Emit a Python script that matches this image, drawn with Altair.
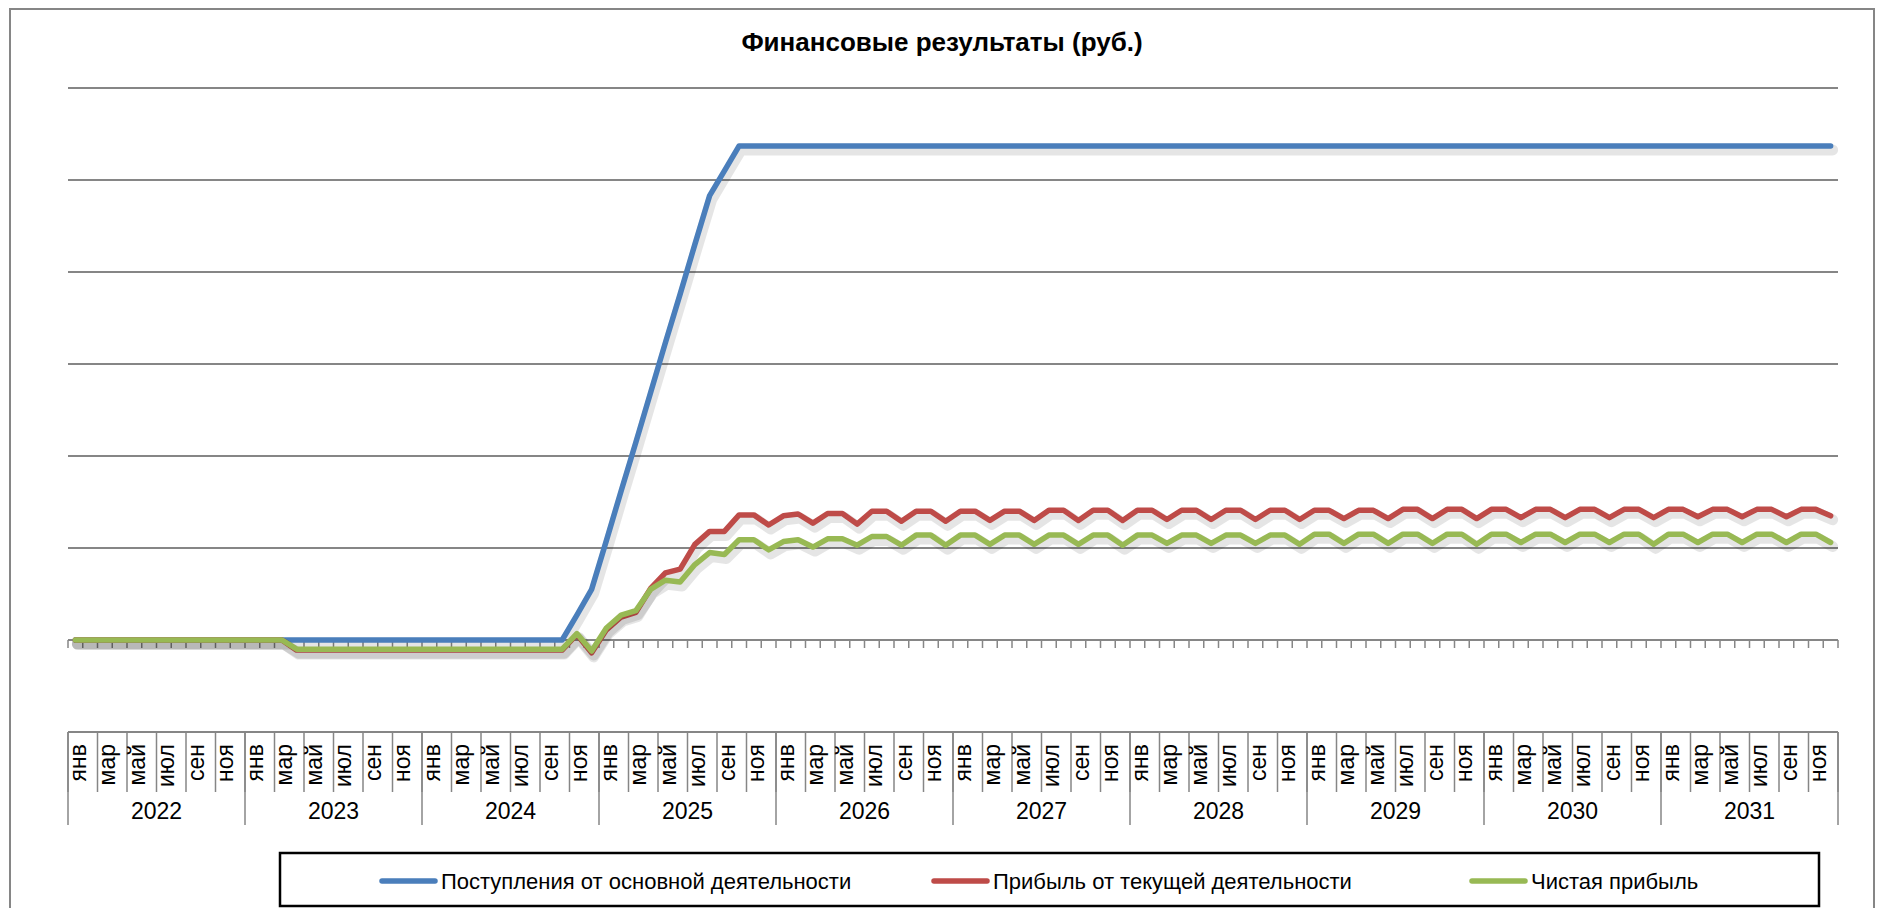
import altair as alt
import pandas as pd

# ---------------- data ----------------
years = [2022, 2023, 2024, 2025, 2026, 2027, 2028, 2029, 2030, 2031]
month_names = ["янв", "фев", "мар", "апр", "май", "июн", "июл", "авг", "сен", "окт", "ноя", "дек"]

series_names = [
    "Поступления от основной деятельности",
    "Прибыль от текущей деятельности",
    "Чистая прибыль",
]
series_colors = ["#4A7EBB", "#BE4B48", "#98B954"]

revenue = [
    0, 0, 0, 0, 0, 0, 0, 0, 0, 0, 0, 0,
    0, 0, 0, 0, 0, 0, 0, 0, 0, 0, 0, 0,
    0, 0, 0, 0, 0, 0, 0, 0, 0, 0, 0.27, 0.55,
    1.08, 1.62, 2.15, 2.69, 3.23, 3.76, 4.30, 4.83, 5.10, 5.37, 5.37, 5.37,
    5.37, 5.37, 5.37, 5.37, 5.37, 5.37, 5.37, 5.37, 5.37, 5.37, 5.37, 5.37,
    5.37, 5.37, 5.37, 5.37, 5.37, 5.37, 5.37, 5.37, 5.37, 5.37, 5.37, 5.37,
    5.37, 5.37, 5.37, 5.37, 5.37, 5.37, 5.37, 5.37, 5.37, 5.37, 5.37, 5.37,
    5.37, 5.37, 5.37, 5.37, 5.37, 5.37, 5.37, 5.37, 5.37, 5.37, 5.37, 5.37,
    5.37, 5.37, 5.37, 5.37, 5.37, 5.37, 5.37, 5.37, 5.37, 5.37, 5.37, 5.37,
    5.37, 5.37, 5.37, 5.37, 5.37, 5.37, 5.37, 5.37, 5.37, 5.37, 5.37, 5.37,
]

operating_profit = [
    0, 0, 0, 0, 0, 0, 0, 0, 0, 0, 0, 0,
    0, 0, 0, -0.11, -0.11, -0.11, -0.11, -0.11, -0.11, -0.11, -0.11, -0.11,
    -0.11, -0.11, -0.11, -0.11, -0.11, -0.11, -0.11, -0.11, -0.11, -0.11, 0.06, -0.14,
    0.11, 0.25, 0.30, 0.56, 0.73, 0.77, 1.04, 1.18, 1.18, 1.36, 1.36, 1.25,
    1.35, 1.37, 1.27, 1.375, 1.375, 1.26, 1.40, 1.40, 1.29, 1.40, 1.40, 1.29,
    1.40, 1.40, 1.30, 1.40, 1.40, 1.30, 1.41, 1.41, 1.30, 1.41, 1.41, 1.30,
    1.41, 1.41, 1.31, 1.41, 1.41, 1.31, 1.41, 1.41, 1.31, 1.41, 1.41, 1.31,
    1.41, 1.41, 1.32, 1.41, 1.41, 1.32, 1.42, 1.42, 1.32, 1.42, 1.42, 1.32,
    1.42, 1.42, 1.33, 1.42, 1.42, 1.33, 1.42, 1.42, 1.33, 1.42, 1.42, 1.33,
    1.42, 1.42, 1.34, 1.42, 1.42, 1.34, 1.42, 1.42, 1.34, 1.42, 1.42, 1.35,
]

net_profit = [
    0, 0, 0, 0, 0, 0, 0, 0, 0, 0, 0, 0,
    0, 0, 0, -0.10, -0.10, -0.10, -0.10, -0.10, -0.10, -0.10, -0.10, -0.10,
    -0.10, -0.10, -0.10, -0.10, -0.10, -0.10, -0.10, -0.10, -0.10, -0.10, 0.07, -0.12,
    0.13, 0.27, 0.32, 0.55, 0.65, 0.63, 0.82, 0.95, 0.93, 1.09, 1.09, 0.98,
    1.07, 1.09, 1.01, 1.10, 1.10, 1.03, 1.125, 1.125, 1.03, 1.14, 1.14, 1.03,
    1.14, 1.14, 1.04, 1.14, 1.14, 1.04, 1.14, 1.14, 1.04, 1.14, 1.14, 1.03,
    1.14, 1.14, 1.05, 1.14, 1.14, 1.05, 1.14, 1.14, 1.05, 1.14, 1.14, 1.04,
    1.15, 1.15, 1.05, 1.15, 1.15, 1.05, 1.15, 1.15, 1.05, 1.15, 1.15, 1.04,
    1.15, 1.15, 1.06, 1.15, 1.15, 1.06, 1.15, 1.15, 1.06, 1.15, 1.15, 1.04,
    1.15, 1.15, 1.06, 1.15, 1.15, 1.06, 1.15, 1.15, 1.06, 1.15, 1.15, 1.06,
]

gridline_values = [-1, 0, 1, 2, 3, 4, 5, 6]
title_text = "Финансовые результаты (руб.)"

# ---------------- layout (pixels, plot-area relative) ----------------
W, H = 1770, 644
FONT = "Liberation Sans"
GRID = "#868686"
n_months = len(years) * 12

xs = alt.Scale(domain=[0, n_months], nice=False, zero=False)
ys = alt.Scale(domain=[-1, 6], nice=False, zero=False)

# tables built from the arrays above
all_values = [revenue, operating_profit, net_profit]
line_frames = []
for name, vals in zip(series_names, all_values):
    line_frames.append(pd.DataFrame({
        "t": [i + 0.5 for i in range(n_months)],
        "value": vals,
        "series": name,
    }))

month_lab = pd.DataFrame({
    "t": [i + 0.72 for i in range(0, n_months, 2)],
    "label": [month_names[i % 12] for i in range(0, n_months, 2)],
})
month_bounds = pd.DataFrame({"b": list(range(0, n_months + 1))})
pair_bounds = pd.DataFrame({"b": list(range(0, n_months + 1, 2))})
year_bounds = pd.DataFrame({"b": list(range(0, n_months + 1, 12))})
year_lab = pd.DataFrame({"t": [12 * k + 6 for k in range(len(years))],
                         "label": [str(y) for y in years]})
grid_df = pd.DataFrame({"g": gridline_values})

legend_sym_x = [314, 866, 1404]
legend_sym_len = 53
legend_df = pd.DataFrame({
    "name": series_names,
    "x1": legend_sym_x,
    "x2": [v + legend_sym_len for v in legend_sym_x],
    "tx": [v + legend_sym_len + 6 for v in legend_sym_x],
})

# ---------------- layers ----------------
grid = alt.Chart(grid_df).mark_rule(color=GRID, strokeWidth=2).encode(
    y=alt.Y("g:Q", scale=ys, axis=None)
)

zero_ticks = alt.Chart(month_bounds).mark_rule(color=GRID, strokeWidth=1.5).encode(
    x=alt.X("b:Q", scale=xs, axis=None),
    y=alt.value(552),
    y2=alt.value(560),
)

pair_lines = alt.Chart(pair_bounds).mark_rule(color=GRID, strokeWidth=1.5).encode(
    x=alt.X("b:Q", scale=xs, axis=None),
    y=alt.value(H),
    y2=alt.value(704),
)
year_lines = alt.Chart(year_bounds).mark_rule(color=GRID, strokeWidth=1.5).encode(
    x=alt.X("b:Q", scale=xs, axis=None),
    y=alt.value(H),
    y2=alt.value(737),
)

month_text = alt.Chart(month_lab).mark_text(
    angle=270, align="right", baseline="middle", font=FONT, fontSize=23, color="#000"
).encode(
    x=alt.X("t:Q", scale=xs, axis=None),
    y=alt.value(656),
    text="label:N",
)

year_text = alt.Chart(year_lab).mark_text(
    align="center", baseline="middle", font=FONT, fontSize=23, color="#000"
).encode(
    x=alt.X("t:Q", scale=xs, axis=None),
    y=alt.value(724),
    text="label:N",
)

layers = [grid, zero_ticks, pair_lines, year_lines, month_text, year_text]

for df, col in zip(line_frames, series_colors):
    shadow = alt.Chart(df).mark_line(
        color="#000000", opacity=0.10, strokeWidth=11, xOffset=2, yOffset=4,
        strokeJoin="round", strokeCap="round"
    ).encode(
        x=alt.X("t:Q", scale=xs, axis=None),
        y=alt.Y("value:Q", scale=ys, axis=None),
    )
    line = alt.Chart(df).mark_line(
        color=col, strokeWidth=5.5, strokeJoin="round", strokeCap="round"
    ).encode(
        x=alt.X("t:Q", scale=xs, axis=None),
        y=alt.Y("value:Q", scale=ys, axis=None),
    )
    layers += [shadow, line]

title = alt.Chart(pd.DataFrame({"s": [title_text]})).mark_text(
    align="center", baseline="middle", font=FONT, fontSize=26, fontWeight="bold", color="#000"
).encode(x=alt.value(874), y=alt.value(-45), text="s:N")

outer = alt.Chart(pd.DataFrame({"a": [0]})).mark_rect(
    fillOpacity=0, stroke=GRID, strokeWidth=2
).encode(x=alt.value(-58), x2=alt.value(1806), y=alt.value(-79), y2=alt.value(900))

legend_box = alt.Chart(pd.DataFrame({"a": [0]})).mark_rect(
    fillOpacity=0, stroke="#000000", strokeWidth=2.5
).encode(x=alt.value(212), x2=alt.value(1751), y=alt.value(765), y2=alt.value(818))

legend_sym = alt.Chart(legend_df).mark_rule(strokeWidth=5.5, strokeCap="round").encode(
    x=alt.X("x1:Q", scale=None),
    x2="x2:Q",
    y=alt.value(793),
    color=alt.Color("name:N", scale=alt.Scale(domain=series_names, range=series_colors), legend=None),
)
legend_txt = alt.Chart(legend_df).mark_text(
    align="left", baseline="middle", font=FONT, fontSize=22, color="#000"
).encode(x=alt.X("tx:Q", scale=None), y=alt.value(794), text="name:N")

layers += [title, outer, legend_box, legend_sym, legend_txt]

chart = alt.layer(*layers).properties(
    width=W, height=H,
    autosize=alt.AutoSizeParams(type="none"),
    padding={"left": 60, "top": 80, "right": 38, "bottom": 176},
).configure_view(strokeWidth=0).resolve_scale(color="independent")

chart.save("out.html", embed_options={"renderer": "svg", "actions": False})
